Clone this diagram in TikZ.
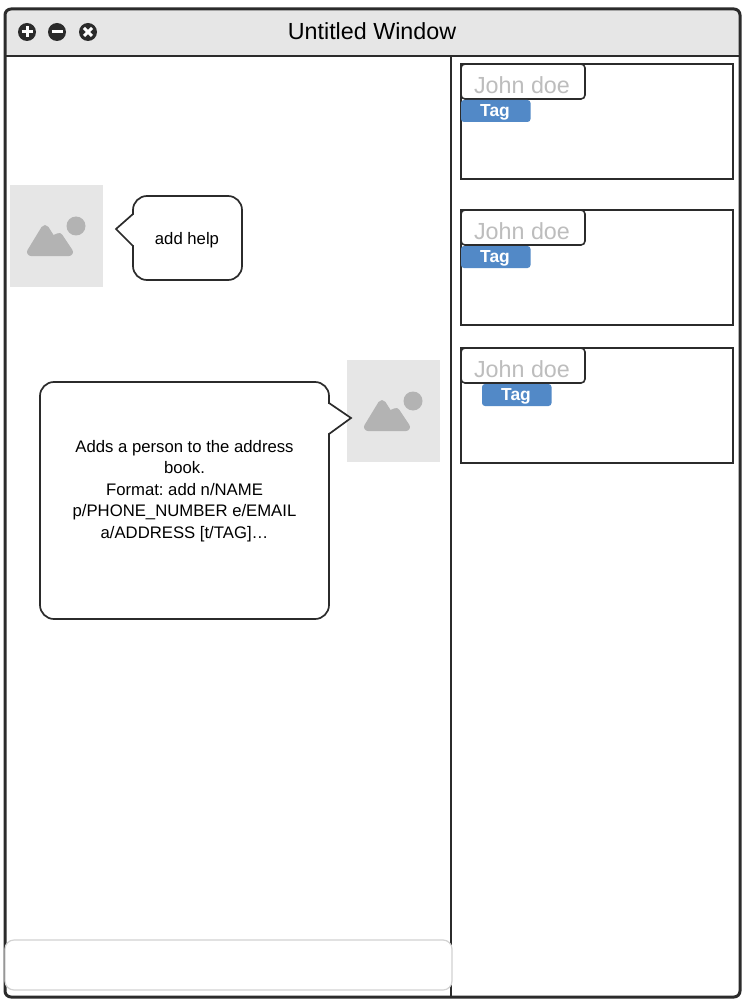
\documentclass[tikz,border=0pt]{standalone}
\usepackage{fontspec}
\setmainfont{Liberation Sans}
\frenchspacing
\definecolor{barfill}{HTML}{E6E6E6}
\definecolor{framecol}{HTML}{2B2B2B}
\definecolor{tagfill}{HTML}{5289C7}
\definecolor{namecol}{HTML}{BDBDBD}
\definecolor{iconcol}{HTML}{B3B3B3}
\definecolor{inputcol}{HTML}{D2D2D2}
\tikzset{
  card/.style={draw=framecol,line width=1.6pt,fill=white},
  namebox/.style={draw=framecol,line width=1.6pt,fill=white,rounded corners=4pt},
  nametext/.style={text=namecol,font=\fontsize{23.3}{26}\selectfont,inner sep=0pt},
  tagbox/.style={fill=tagfill,rounded corners=3pt},
  tagtext/.style={text=white,font=\fontsize{17.4}{20}\selectfont\bfseries,inner sep=0pt},
  bubble/.style={draw=framecol,line width=1.7pt,fill=white,rounded corners=14pt},
  pointer/.style={draw=framecol,line width=1.7pt,line join=miter},
  saytext/.style={align=center,inner sep=0pt,font=\fontsize{16.7}{21.5}\selectfont},
  winbtn/.style={circle,fill=framecol,minimum size=18pt,inner sep=0pt},
  btnline/.style={white,line width=3pt},
  pics/imgicon/.style={code={
    \fill[barfill] (0,0) rectangle (93.2,102.2);
    \fill[iconcol] (66,41) circle (9.5);
    \fill[iconcol,draw=iconcol,line width=8pt,line join=round]
      (21,67) -- (35,44) -- (42,55) -- (49,52) -- (59,67) -- cycle;
  }},
}
\begin{document}
\begin{tikzpicture}[x=1pt,y=-1pt]
\useasboundingbox (0,0) rectangle (750,1000);
%% window
\fill[white] (0,0) rectangle (750,1000);
\path[fill=barfill,rounded corners=6pt] (5,56) -- (5,9) -- (740,9) -- (740,56) -- cycle;
\draw[framecol,line width=3pt,rounded corners=6pt] (5,997) -- (5,9) -- (740,9) -- (740,997) -- cycle;
\draw[framecol,line width=2.6pt] (5,56) -- (740,56);
\draw[framecol,line width=2pt] (450.5,56) -- (450.5,997);
\node (title) at (372,31) [inner sep=0pt,font=\fontsize{23.3}{26}\selectfont] {Untitled Window};
%% window buttons
\node (btn_add) at (27,32) [winbtn] {};
\node (btn_min) at (57,32) [winbtn] {};
\node (btn_cls) at (88,32) [winbtn] {};
\draw[btnline] (21.5,32) -- (32.5,32) (27,26.5) -- (27,37.5);
\draw[btnline] (51.5,32) -- (62.5,32);
\draw[btnline] (84,28) -- (92,36) (92,28) -- (84,36);
%% chat side
\pic at (10,185) {imgicon};
\pic at (347,360) {imgicon};
\draw[bubble] (133,196) rectangle (242,280);
\fill[white] (116,229) -- (132,215) -- (135,215) -- (135,245) -- (132,245) -- cycle;
\draw[pointer] (133,214) -- (116,229) -- (133,246);
\draw[bubble] (40,382) rectangle (329,619);
\fill[white] (351,418) -- (330,404) -- (327,404) -- (327,433) -- (330,433) -- cycle;
\draw[pointer] (329,403) -- (351,418) -- (329,434);
\node (say_help) at (187,240) [saytext] {add help};
\node (say_add) at (184.5,491) [saytext] {Adds a person to the address\\book.\\Format: add n/NAME\\p/PHONE\_NUMBER e/EMAIL\\a/ADDRESS [t/TAG]…};
\draw[inputcol,line width=1.2pt,fill=white,rounded corners=9pt] (5,940) rectangle (452,990);
%% person cards
\foreach \name/\ytop/\xtag/\ytag in {a/64/461/100, b/210/461/246, c/348/482/384}{
  \draw[card] (461,\ytop) rectangle (733,\ytop+115);
  \draw[namebox] (461,\ytop) rectangle (585,\ytop+35);
  \node (name_\name) at (522,\ytop+21) [nametext] {John doe};
  \fill[tagbox] (\xtag,\ytag) rectangle (\xtag+69.5,\ytag+22);
  \node (tag_\name) at (\xtag+34,\ytag+12.5) [tagtext] {Tag};
}
\end{tikzpicture}
\end{document}
